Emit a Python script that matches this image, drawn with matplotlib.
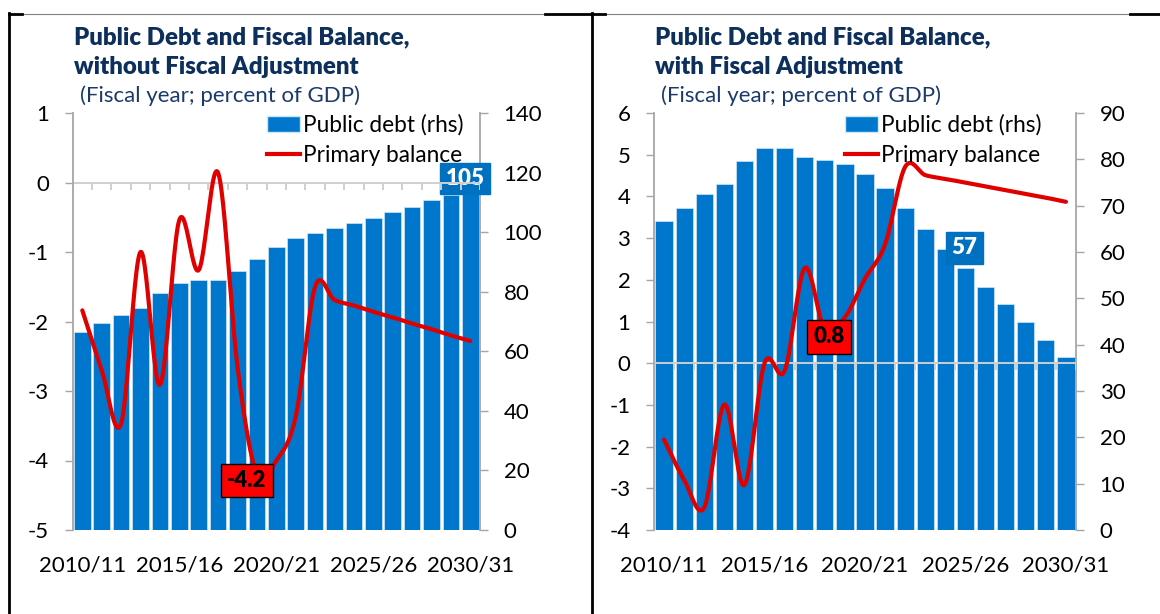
import numpy as np
import matplotlib
matplotlib.use('Agg')
import matplotlib.pyplot as plt
from matplotlib.lines import Line2D
from matplotlib.patches import Patch
from matplotlib.transforms import blended_transform_factory

plt.rcParams['font.family'] = ['Lato', 'DejaVu Sans']

# ---- data ----
years = ['2010/11', '2011/12', '2012/13', '2013/14', '2014/15', '2015/16', '2016/17',
         '2017/18', '2018/19', '2019/20', '2020/21', '2021/22', '2022/23', '2023/24',
         '2024/25', '2025/26', '2026/27', '2027/28', '2028/29', '2029/30', '2030/31']
tick_years = ['2010/11', '2015/16', '2020/21', '2025/26', '2030/31']

debt_no_adj = [66.4, 69.4, 72.3, 74.5, 79.5, 82.9, 84.0, 84.0, 86.9, 91.1, 94.9,
               98.1, 99.7, 101.3, 103.0, 104.8, 106.7, 108.6, 110.7, 112.6, 114.6]
pb_no_adj = [-1.84, -2.70, -3.47, -1.00, -2.91, -0.54, -1.26, 0.14, -2.65, -4.2, -4.0,
             -3.37, -1.50, -1.69, -1.77, -1.86, -1.94, -2.03, -2.11, -2.20, -2.28]

debt_adj = [66.7, 69.6, 72.5, 74.6, 79.6, 82.5, 82.5, 80.5, 79.9, 78.9, 76.8,
            73.9, 69.4, 65.0, 60.7, 56.6, 52.5, 48.7, 44.8, 41.0, 37.4]
pb_adj = [-1.83, -2.80, -3.46, -0.99, -2.92, 0.0, -0.18, 2.28, 0.8, 1.1, 2.03,
          2.85, 4.71, 4.51, 4.42, 4.33, 4.24, 4.15, 4.06, 3.97, 3.87]

BLUE = '#0077CC'
RED = '#E00000'
GREY = '#A6A6A6'
NAVY = '#0D2F5C'

W, H = 1160, 614


def smooth(xs, ys, n=24):
    # Excel style smoothed line (Catmull-Rom through the data points)
    p = np.column_stack([xs, ys]).astype(float)
    p = np.vstack([p[0], p, p[-1]])
    t = np.linspace(0, 1, n, endpoint=False)[:, None]
    segs = []
    for i in range(1, len(p) - 2):
        p0, p1, p2, p3 = p[i - 1], p[i], p[i + 1], p[i + 2]
        segs.append(0.5 * (2 * p1 + (-p0 + p2) * t + (2 * p0 - 5 * p1 + 4 * p2 - p3) * t ** 2
                           + (-p0 + 3 * p1 - 3 * p2 + p3) * t ** 3))
    segs.append(p[-2:-1])
    s = np.vstack(segs)
    return s[:, 0], s[:, 1]


def panel(rect, debt, pb, lim_l, step_l, lim_r, step_r, title, debt_lab, pb_lab, leg_x):
    ax = fig.add_axes(rect)
    ax2 = ax.twinx()
    ax.set_zorder(ax2.get_zorder() + 1)
    ax.patch.set_visible(False)

    x = np.arange(len(years))
    ax2.bar(x, debt, width=0.86, color=BLUE, edgecolor='#CFE6F7', linewidth=0.5)
    sx, sy = smooth(x, pb)
    ax.plot(sx, sy, color=RED, lw=3.0, solid_capstyle='round', zorder=4)

    ax.set_xlim(-0.5, len(years) - 0.5)
    ax.set_ylim(*lim_l)
    ax2.set_ylim(*lim_r)
    ax.set_yticks(np.arange(lim_l[0], lim_l[1] + 0.01, step_l))
    ax2.set_yticks(np.arange(lim_r[0], lim_r[1] + 0.01, step_r))

    # category axis crossing at zero, ticks between categories
    ax.axhline(0, color='#CFCFCF', lw=1.4, zorder=2)
    frac0 = (0 - lim_l[0]) / (lim_l[1] - lim_l[0])
    tlen = 7 / (rect[3] * H)
    tr = blended_transform_factory(ax.transData, ax.transAxes)
    ax.vlines(np.arange(len(years) + 1) - 0.5, frac0 - tlen, frac0, transform=tr,
              color='#CFCFCF', lw=1.4, zorder=2)

    ax.set_xticks([years.index(y) for y in tick_years])
    ax.set_xticklabels(tick_years)
    ax.tick_params(axis='x', length=0, pad=18, labelsize=16)
    ax.tick_params(axis='y', length=6, width=1, color=GREY, pad=11, labelsize=16)
    ax2.tick_params(axis='y', length=6, width=1, color=GREY, pad=11, labelsize=16)
    ax.set_yticklabels([f'{v:g}' for v in ax.get_yticks()])

    for s in ['top', 'right', 'bottom']:
        ax.spines[s].set_visible(False)
    for s in ['top', 'left', 'bottom']:
        ax2.spines[s].set_visible(False)
    ax.spines['left'].set_color(GREY)
    ax.spines['left'].set_linewidth(1.3)
    ax2.spines['right'].set_color(GREY)
    ax2.spines['right'].set_linewidth(1.3)

    handles = [Patch(facecolor=BLUE, edgecolor='#CFE6F7'), Line2D([], [], color=RED, lw=3)]
    ax.legend(handles, ['Public debt (rhs)', 'Primary balance'], loc='upper left',
              bbox_to_anchor=(leg_x, 1.019), frameon=False, fontsize=16.3,
              handlelength=1.44, handletextpad=0.14, labelspacing=0.42, borderaxespad=0)

    # data labels
    i, dx, dy, txt = debt_lab
    ax2.annotate(txt, (x[i], debt[i]),
                 xytext=(dx, dy), textcoords='offset pixels', ha='center', va='center',
                 fontsize=16, fontweight='heavy', color='white', zorder=6, annotation_clip=False,
                 bbox=dict(boxstyle='square,pad=0.24', fc='#0070C0', ec='#0070C0'))
    i, dx, dy = pb_lab
    ax.annotate(f'{pb[i]:.1f}', (x[i], pb[i]), xytext=(dx, dy), textcoords='offset pixels',
                ha='center', va='center', fontsize=16, fontweight='heavy', color='black', zorder=6,
                bbox=dict(boxstyle='square,pad=0.28', fc='#FF0000', ec='black', lw=1))

    fig.text(rect[0] + 1 / W, 1 - 37 / H, title[0], fontsize=17.3, fontweight='heavy',
             color=NAVY, va='center')
    fig.text(rect[0] + 1 / W, 1 - 67 / H, title[1], fontsize=17.3, fontweight='heavy',
             color=NAVY, va='center')
    fig.text(rect[0] + 7 / W, 1 - 96 / H, '(Fiscal year; percent of GDP)', fontsize=16,
             color='#1B3A6B', va='center')
    return ax, ax2


fig = plt.figure(figsize=(W / 100, H / 100), dpi=100)

panel([72.6 / W, 84 / H, 407.4 / W, 417 / H], debt_no_adj, pb_no_adj,
      (-5, 1), 1, (0, 140), 20,
      ['Public Debt and Fiscal Balance,', 'without Fiscal Adjustment'],
      (20, -5, 10, '105'), (9, -10, -6), 0.456)
panel([654 / W, 84 / H, 422 / W, 417 / H], debt_adj, pb_adj,
      (-4, 6), 1, (0, 90), 10,
      ['Public Debt and Fiscal Balance,', 'with Fiscal Adjustment'],
      (15, -1, 20, '57'), (8, 4, -7), 0.432)

# table-like frame around the two charts
def fline(x0, x1, y0, y1, color, lw):
    fig.add_artist(Line2D([x0 / W, x1 / W], [1 - y0 / H, 1 - y1 / H],
                          transform=fig.transFigure, color=color, lw=lw))

fline(9, 1160, 14, 14, '#808080', 0.8)
fline(9, 22, 14, 14, 'black', 2)
fline(545, 605, 14, 14, 'black', 2)
fline(1130, 1160, 14, 14, 'black', 2)
fline(9, 9, 13, 614, 'black', 2)
fline(592, 592, 13, 614, 'black', 2)

fig.savefig('out.png', dpi=100)
